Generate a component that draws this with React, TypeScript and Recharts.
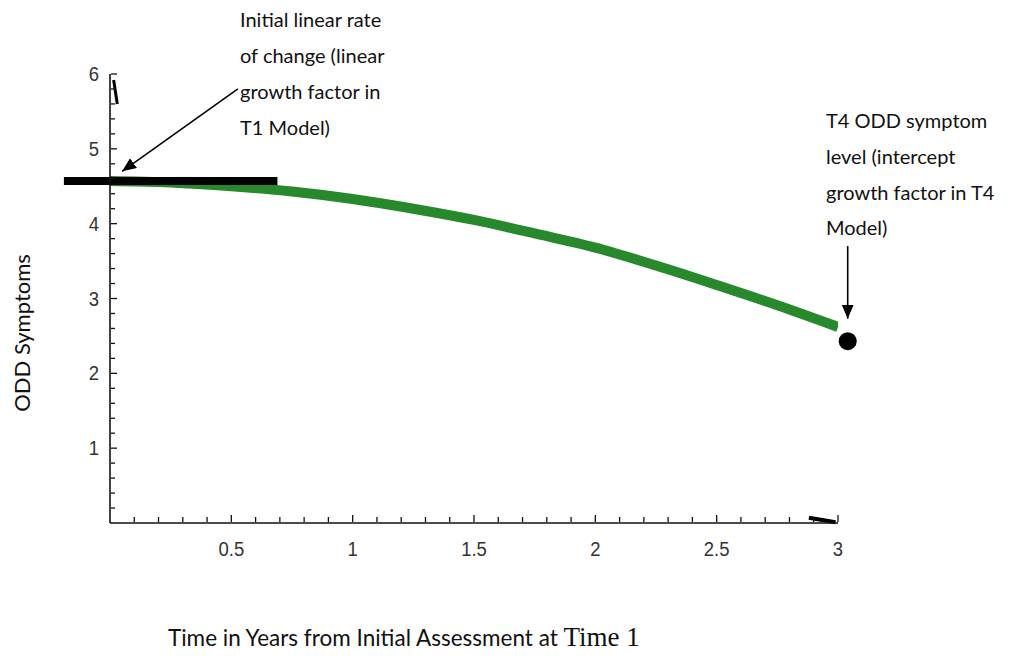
import React from 'react';
import { LineChart, Line, XAxis, YAxis, ReferenceLine, ReferenceDot } from 'recharts';

// time in years, ODD symptom level
const years = [0, 0.25, 0.5, 0.75, 1.0, 1.25, 1.5, 1.75, 2.0, 2.25, 2.5, 2.75, 3.0];
const symptoms = [4.57, 4.55, 4.5, 4.43, 4.33, 4.2, 4.05, 3.87, 3.68, 3.44, 3.18, 2.91, 2.62];

const xLabeled = [0.5, 1, 1.5, 2, 2.5, 3];
const yLabeled = [1, 2, 3, 4, 5, 6];
const xTicks = Array.from({ length: 30 }, (_, i) => Math.round(i + 1) / 10);
const yTicks = Array.from({ length: 30 }, (_, i) => Math.round((i + 1) * 2) / 10);

// tangent (initial linear rate) segment and T4 intercept point
const tangentLevel = 4.57;
const tangentStart = -0.19;
const tangentEnd = 0.69;
const t4Time = 3.04;
const t4Level = 2.43;

const data = years.map((t, i) => ({ t, y: symptoms[i] }));

const isLabeled = (arr: number[], v: number) => arr.some((a) => Math.abs(a - v) < 1e-6);

const tickFont = "'Liberation Sans', Arial, sans-serif";

const XTick = (props: any) => {
  const { x, y, payload } = props;
  const v = payload.value;
  const major = isLabeled(xLabeled, v);
  return (
    <g>
      <line x1={x} x2={x} y1={y - 1} y2={y - 1 - (major ? 7 : 5)} stroke="#111" strokeWidth={1.3} />
      {major && (
        <text
          x={0}
          y={0}
          textAnchor="middle"
          fontFamily={tickFont}
          fontSize={21}
          fill="#333"
          transform={`translate(${x} ${y + 33}) scale(0.88 1)`}
        >
          {String(v)}
        </text>
      )}
    </g>
  );
};

const YTick = (props: any) => {
  const { x, y, payload } = props;
  const v = payload.value;
  const major = isLabeled(yLabeled, v);
  return (
    <g>
      <line x1={x + 1} x2={x + 1 + (major ? 6 : 4)} y1={y} y2={y} stroke="#111" strokeWidth={1.3} />
      {major && (
        <text
          x={0}
          y={0}
          textAnchor="end"
          fontFamily={tickFont}
          fontSize={21}
          fill="#333"
          transform={`translate(${x - 11} ${y + 7}) scale(0.88 1)`}
        >
          {String(v)}
        </text>
      )}
    </g>
  );
};

const arrowShape = (p: any) => (
  <line x1={p.x1} y1={p.y1} x2={p.x2} y2={p.y2} stroke="#000" strokeWidth={1.6} markerEnd="url(#arrowHead)" />
);

const annFont = "Lato, 'Open Sans', sans-serif";

export default function App() {
  return (
    <div style={{ position: 'absolute', left: 0, top: 0, width: 1034, height: 658, background: '#fff' }}>
      <svg width={0} height={0} style={{ position: 'absolute' }}>
        <defs>
          <marker id="arrowHead" markerWidth={16} markerHeight={14} refX={14} refY={6} orient="auto" markerUnits="userSpaceOnUse">
            <path d="M0,0 L14,6 L0,12 Z" fill="#000" />
          </marker>
        </defs>
      </svg>
      <LineChart width={1034} height={658} data={data} margin={{ top: 74, right: 196, bottom: 134, left: 109 }}>
        <XAxis
          dataKey="t"
          type="number"
          domain={[0, 3]}
          ticks={xTicks}
          interval={0}
          height={1}
          tickSize={0}
          tickMargin={0}
          tickLine={false}
          tick={<XTick />}
          axisLine={{ stroke: '#111', strokeWidth: 1.6 }}
          allowDataOverflow
        />
        <YAxis
          type="number"
          domain={[0, 6]}
          ticks={yTicks}
          interval={0}
          width={1}
          tickSize={0}
          tickMargin={0}
          tickLine={false}
          tick={<YTick />}
          axisLine={{ stroke: '#111', strokeWidth: 1.6 }}
          allowDataOverflow
        />
        <Line
          dataKey="y"
          type="monotone"
          stroke="#27892c"
          strokeWidth={10}
          strokeLinecap="butt"
          dot={false}
          activeDot={false}
          isAnimationActive={false}
        />
        <ReferenceLine
          segment={[{ x: tangentStart, y: tangentLevel }, { x: tangentEnd, y: tangentLevel }]}
          stroke="#000"
          strokeWidth={8}
          ifOverflow="visible"
        />
        <ReferenceLine
          segment={[{ x: 0.527, y: 5.8 }, { x: 0.05, y: 4.7 }]}
          ifOverflow="visible"
          shape={arrowShape}
        />
        <ReferenceLine
          segment={[{ x: t4Time, y: 3.7 }, { x: t4Time, y: 2.73 }]}
          ifOverflow="visible"
          shape={arrowShape}
        />
        <ReferenceLine
          segment={[{ x: 0.015, y: 5.92 }, { x: 0.03, y: 5.6 }]}
          stroke="#000"
          strokeWidth={3}
          ifOverflow="visible"
        />
        <ReferenceLine
          segment={[{ x: 2.88, y: 0.07 }, { x: 2.99, y: 0.01 }]}
          stroke="#000"
          strokeWidth={4}
          ifOverflow="visible"
        />
        <ReferenceDot x={t4Time} y={t4Level} r={9} fill="#000" stroke="none" ifOverflow="visible" />
      </LineChart>
      <svg width={1034} height={658} style={{ position: 'absolute', left: 0, top: 0, pointerEvents: 'none' }}>
        <g fontFamily={annFont} fontSize={20} fill="#111">
          <text x={240} y={27}>Initial linear rate</text>
          <text x={240} y={63}>of change (linear</text>
          <text x={240} y={99}>growth factor in</text>
          <text x={240} y={135}>T1 Model)</text>
          <text x={826} y={128}>T4 ODD symptom</text>
          <text x={826} y={164}>level (intercept</text>
          <text x={826} y={200}>growth factor in T4</text>
          <text x={826} y={235}>Model)</text>
          <text x={30} y={333} textAnchor="middle" fontSize={22} transform="rotate(-90 30 333)">ODD Symptoms</text>
          <text x={168} y={646} fontSize={22.5}>
            Time in Years from Initial Assessment at{' '}
            <tspan fontFamily="'Liberation Serif', 'Times New Roman', serif" fontSize={27}>Time 1</tspan>
          </text>
        </g>
      </svg>
    </div>
  );
}
